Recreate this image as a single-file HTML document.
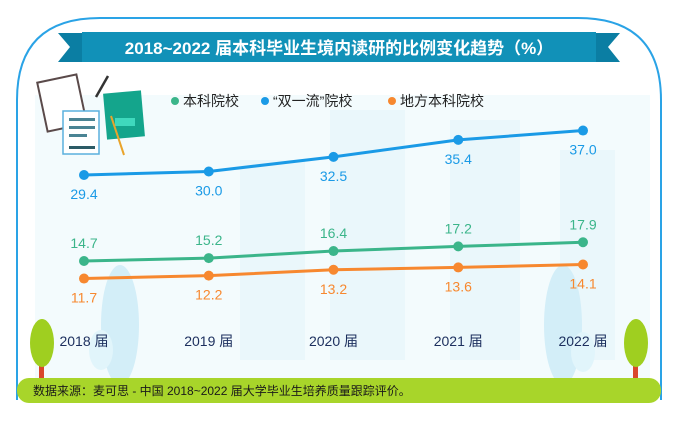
<!DOCTYPE html>
<html><head><meta charset="utf-8">
<style>
html,body{margin:0;padding:0;background:#fff;}
body{width:678px;height:421px;overflow:hidden;position:relative;font-family:"Liberation Sans","Noto Sans CJK SC",sans-serif;}
svg{position:absolute;left:0;top:0;}
</style></head>
<body>
<svg width="678" height="421" viewBox="0 0 678 421">
  <path d="M17,400 L17,100 Q17,18 100,18 L578,18 Q661,18 661,100 L661,400" fill="#fff" stroke="#2aa3e6" stroke-width="2"/>
  <rect x="35" y="95" width="615" height="285" fill="#f3fbfd"/>
  <g fill="#eaf7fb">
    <rect x="240" y="160" width="65" height="200"/>
    <rect x="330" y="110" width="75" height="250"/>
    <rect x="450" y="120" width="70" height="240"/>
    <rect x="560" y="150" width="55" height="210"/>
  </g>
  <g fill="#d3eef8">
    <ellipse cx="120" cy="325" rx="19" ry="60"/><rect x="117" y="330" width="6" height="45"/>
    <ellipse cx="563" cy="325" rx="19" ry="60"/><rect x="560" y="330" width="6" height="45"/>
    <ellipse cx="101" cy="350" rx="12" ry="20" fill="#e1f5fb"/>
    <ellipse cx="583" cy="352" rx="12" ry="20" fill="#e1f5fb"/>
  </g>
  <g>
    <polygon points="58,33 85,33 85,62 58,62 70,47" fill="#0b7ea3"/>
    <polygon points="620,33 593,33 593,62 620,62 608,47" fill="#0b7ea3"/>
    <rect x="82" y="32" width="514" height="30" fill="#1191b8"/>
    <text x="339" y="54" text-anchor="middle" font-size="17" font-weight="bold" fill="#fff">2018~2022 届本科毕业生境内读研的比例变化趋势（%）</text>
  </g>
  <g>
    <rect x="42" y="78" width="40" height="50" fill="#fff" stroke="#5a4a4a" stroke-width="2" transform="rotate(-12 62 103)"/>
    <rect x="63" y="111" width="36" height="43" fill="#fff" stroke="#5ab0dd" stroke-width="1.5"/>
    <rect x="69" y="118" width="26" height="3" fill="#4a8494"/><rect x="69" y="126" width="26" height="3" fill="#4a8494"/>
    <rect x="69" y="134" width="18" height="3" fill="#4a8494"/><rect x="69" y="146" width="26" height="3" fill="#2c5b66"/>
    <rect x="105" y="92" width="38" height="46" fill="#14a58c" transform="rotate(-5 124 115)"/>
    <rect x="115" y="118" width="20" height="8" fill="#3fd9bd"/>
    <line x1="96" y1="97" x2="108" y2="76" stroke="#333" stroke-width="2.5"/>
    <line x1="111" y1="116" x2="124" y2="155" stroke="#e9a42b" stroke-width="2"/>
  </g>
  <g id="plot"></g>
  <g>
    <rect x="39" y="350" width="5" height="30" fill="#d9472c"/>
    <ellipse cx="42" cy="343" rx="12" ry="24" fill="#9fcf20"/>
  </g>
  <g>
    <rect x="633" y="350" width="5" height="30" fill="#d9472c"/>
    <ellipse cx="636" cy="343" rx="12" ry="24" fill="#9fcf20"/>
  </g>
  <rect x="17" y="378" width="644" height="25" rx="12" fill="#a8d52a"/>
  <text x="33" y="395" font-size="12" fill="#1a1a1a">数据来源：麦可思 - 中国 2018~2022 届大学毕业生培养质量跟踪评价。</text>
</svg>
<script>
const years = ["2018 届","2019 届","2020 届","2021 届","2022 届"];
const seriesNames = ["本科院校","“双一流”院校","地方本科院校"];
const undergrad = [14.7,15.2,16.4,17.2,17.9];
const doubleFirst = [29.4,30.0,32.5,35.4,37.0];
const localUndergrad = [11.7,12.2,13.2,13.6,14.1];
const colors = ["#3bb58a","#1a9ae6","#f7882f"];
const NS="http://www.w3.org/2000/svg";
const g=document.getElementById('plot');
function xs(i){return 84+i*124.75;}
function ys(v){return 175-(v-29.4)*5.85;}
function mk(t,a){const e=document.createElementNS(NS,t);for(const k in a)e.setAttribute(k,a[k]);g.appendChild(e);return e;}
const lx=[175,265,392];
seriesNames.forEach((n,i)=>{
  const c=mk('circle',{cx:lx[i],cy:101,r:4,fill:colors[i]});
  
  
  const t=mk('text',{x:lx[i]+8,y:106,'font-size':14,fill:'#222'});
  t.textContent=n;
  
  
});
const all=[undergrad,doubleFirst,localUndergrad];
const offs=[-13,24,24];
all.forEach((arr,s)=>{
  let d="";
  arr.forEach((v,i)=>{d+=(i?"L":"M")+xs(i)+","+ys(v);});
  const p=mk('path',{d:d,fill:'none',stroke:colors[s],'stroke-width':3});
  
  
  arr.forEach((v,i)=>{
    const c=mk('circle',{cx:xs(i),cy:ys(v),r:5,fill:colors[s]});
    
    
    const t=mk('text',{x:xs(i),y:ys(v)+offs[s],'text-anchor':'middle','font-size':14,fill:colors[s]});
    t.textContent=v.toFixed(1);
    
    
  });
});
years.forEach((y,i)=>{
  const t=mk('text',{x:xs(i),y:346,'text-anchor':'middle','font-size':14,fill:'#1c2f5e'});
  t.textContent=y;
  
  
});
</script>
</body></html>
